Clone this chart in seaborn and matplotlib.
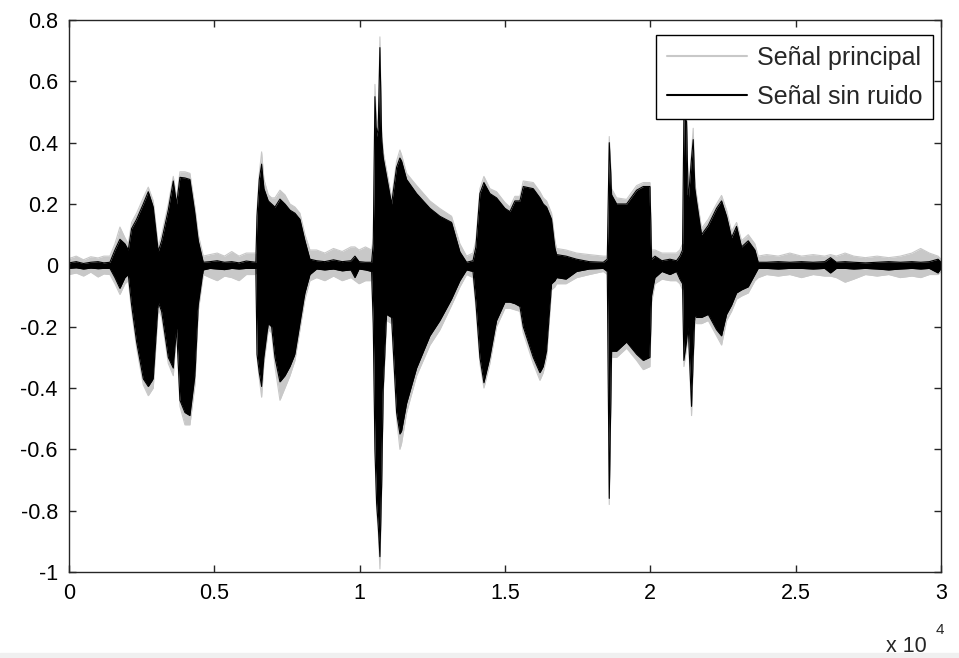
import matplotlib
matplotlib.use("Agg")
import matplotlib.pyplot as plt
from matplotlib.lines import Line2D
import pandas as pd
import seaborn as sns

# Waveform envelopes (sample index -> max / min amplitude) for both signals
sample_pos = [0, 250, 500, 750, 1000, 1200, 1410, 1582, 1754, 1926, 2041, 2156, 2328, 2557,
              2729, 2901, 3073, 3188, 3417, 3589, 3704, 3818, 3990, 4162, 4334, 4449, 4621,
              4850, 5100, 5350, 5600, 5850, 6100, 6430, 6470, 6548, 6628, 6708, 6857, 6972,
              7087, 7259, 7431, 7603, 7775, 7947, 8119, 8291, 8520, 8800, 9100, 9400, 9700,
              9839, 9980, 10200, 10412, 10469, 10527, 10584, 10641, 10698, 10756, 10813,
              10928, 11100, 11272, 11386, 11444, 11616, 11960, 12418, 12762, 13163, 13450,
              13679, 13900, 14000, 14138, 14276, 14482, 14711, 14998, 15170, 15342, 15514,
              15629, 15973, 16203, 16317, 16432, 16604, 16719, 16776, 17100, 17464, 17900,
              18382, 18520, 18588, 18640, 18669, 18841, 19185, 19529, 19758, 19988, 20045,
              20160, 20400, 20676, 20900, 21018, 21110, 21156, 21247, 21305, 21419, 21476,
              21534, 21591, 21763, 21993, 22280, 22452, 22624, 22796, 22968, 23140, 23369,
              23599, 23713, 24000, 24400, 24800, 25200, 25600, 26000, 26200, 26400, 26700,
              27000, 27400, 27800, 28200, 28600, 29000, 29300, 29600, 29900, 30000]

clean_hi = [0.008, 0.012, 0.006, 0.010, 0.012, 0.008, 0.010, 0.050, 0.085, 0.070, 0.050,
            0.120, 0.150, 0.200, 0.240, 0.190, 0.045, 0.080, 0.180, 0.275, 0.200, 0.287,
            0.285, 0.280, 0.170, 0.080, 0.010, 0.012, 0.015, 0.010, 0.012, 0.008, 0.014,
            0.010, 0.160, 0.280, 0.330, 0.250, 0.210, 0.200, 0.190, 0.216, 0.200, 0.180,
            0.170, 0.150, 0.080, 0.020, 0.015, 0.012, 0.018, 0.012, 0.015, 0.030, 0.012,
            0.010, 0.010, 0.070, 0.550, 0.420, 0.450, 0.710, 0.420, 0.350, 0.290, 0.200,
            0.320, 0.350, 0.340, 0.280, 0.234, 0.186, 0.160, 0.140, 0.044, 0.010, 0.015,
            0.060, 0.234, 0.270, 0.234, 0.220, 0.186, 0.175, 0.210, 0.210, 0.257, 0.250,
            0.220, 0.200, 0.190, 0.150, 0.056, 0.035, 0.030, 0.020, 0.012, 0.010, 0.020,
            0.400, 0.300, 0.230, 0.200, 0.200, 0.245, 0.257, 0.257, 0.020, 0.030, 0.015,
            0.020, 0.015, 0.030, 0.050, 0.480, 0.470, 0.210, 0.350, 0.410, 0.250, 0.210,
            0.100, 0.130, 0.186, 0.210, 0.160, 0.090, 0.127, 0.060, 0.080, 0.050, 0.010,
            0.010, 0.012, 0.010, 0.012, 0.010, 0.012, 0.025, 0.010, 0.012, 0.010, 0.008,
            0.010, 0.012, 0.010, 0.012, 0.010, 0.012, 0.020, 0.010]

clean_lo = [-0.010, -0.008, -0.012, -0.009, -0.011, -0.010, -0.010, -0.040, -0.075, -0.040,
            -0.030, -0.130, -0.250, -0.370, -0.395, -0.370, -0.120, -0.150, -0.300, -0.335,
            -0.205, -0.440, -0.480, -0.490, -0.360, -0.130, -0.015, -0.010, -0.012, -0.014,
            -0.010, -0.012, -0.010, -0.010, -0.290, -0.350, -0.395, -0.300, -0.190, -0.200,
            -0.300, -0.380, -0.360, -0.330, -0.290, -0.190, -0.090, -0.030, -0.012, -0.015,
            -0.012, -0.018, -0.015, -0.040, -0.012, -0.015, -0.020, -0.190, -0.600, -0.775,
            -0.850, -0.950, -0.720, -0.400, -0.160, -0.170, -0.480, -0.550, -0.540, -0.450,
            -0.335, -0.230, -0.180, -0.110, -0.050, -0.015, -0.020, -0.120, -0.300, -0.383,
            -0.300, -0.180, -0.120, -0.120, -0.125, -0.134, -0.200, -0.300, -0.350, -0.330,
            -0.280, -0.060, -0.050, -0.040, -0.045, -0.020, -0.012, -0.010, -0.020, -0.760,
            -0.450, -0.280, -0.280, -0.250, -0.290, -0.310, -0.300, -0.100, -0.040, -0.020,
            -0.030, -0.020, -0.045, -0.060, -0.310, -0.250, -0.200, -0.460, -0.300, -0.160,
            -0.170, -0.170, -0.160, -0.210, -0.230, -0.160, -0.130, -0.090, -0.080, -0.070,
            -0.030, -0.010, -0.010, -0.012, -0.010, -0.010, -0.012, -0.010, -0.025, -0.010,
            -0.010, -0.012, -0.010, -0.012, -0.015, -0.012, -0.010, -0.012, -0.010, -0.025,
            -0.010]

noisy_hi = [0.022, 0.030, 0.018, 0.028, 0.024, 0.030, 0.030, 0.070, 0.125, 0.090, 0.070,
            0.140, 0.170, 0.220, 0.255, 0.210, 0.060, 0.100, 0.200, 0.290, 0.220, 0.305,
            0.305, 0.300, 0.190, 0.100, 0.030, 0.035, 0.040, 0.030, 0.045, 0.030, 0.040,
            0.040, 0.180, 0.300, 0.370, 0.280, 0.230, 0.220, 0.220, 0.245, 0.230, 0.200,
            0.190, 0.170, 0.100, 0.050, 0.050, 0.040, 0.055, 0.045, 0.060, 0.060, 0.050,
            0.060, 0.050, 0.090, 0.590, 0.450, 0.480, 0.745, 0.440, 0.370, 0.310, 0.220,
            0.340, 0.376, 0.360, 0.300, 0.260, 0.210, 0.185, 0.160, 0.070, 0.030, 0.040,
            0.080, 0.250, 0.290, 0.250, 0.240, 0.205, 0.190, 0.225, 0.225, 0.275, 0.270,
            0.240, 0.220, 0.210, 0.170, 0.080, 0.055, 0.050, 0.040, 0.035, 0.030, 0.030,
            0.420, 0.320, 0.250, 0.220, 0.215, 0.260, 0.270, 0.270, 0.050, 0.050, 0.040,
            0.040, 0.040, 0.050, 0.070, 0.490, 0.480, 0.230, 0.370, 0.447, 0.270, 0.230,
            0.120, 0.150, 0.200, 0.228, 0.180, 0.110, 0.140, 0.080, 0.100, 0.070, 0.030,
            0.035, 0.030, 0.040, 0.030, 0.035, 0.030, 0.035, 0.030, 0.040, 0.030, 0.025,
            0.030, 0.025, 0.030, 0.040, 0.055, 0.040, 0.030, 0.020]

noisy_lo = [-0.030, -0.025, -0.035, -0.022, -0.038, -0.028, -0.030, -0.060, -0.095, -0.060,
            -0.050, -0.150, -0.270, -0.390, -0.425, -0.400, -0.140, -0.170, -0.320, -0.360,
            -0.220, -0.460, -0.520, -0.520, -0.390, -0.150, -0.030, -0.040, -0.050, -0.035,
            -0.040, -0.050, -0.030, -0.030, -0.300, -0.370, -0.430, -0.320, -0.210, -0.220,
            -0.330, -0.440, -0.400, -0.360, -0.310, -0.210, -0.110, -0.050, -0.040, -0.050,
            -0.035, -0.050, -0.040, -0.050, -0.060, -0.050, -0.050, -0.210, -0.620, -0.800,
            -0.870, -0.990, -0.740, -0.420, -0.180, -0.190, -0.500, -0.600, -0.580, -0.480,
            -0.360, -0.260, -0.210, -0.130, -0.070, -0.030, -0.040, -0.140, -0.320, -0.400,
            -0.320, -0.200, -0.140, -0.140, -0.145, -0.150, -0.220, -0.320, -0.375, -0.350,
            -0.300, -0.080, -0.070, -0.060, -0.060, -0.040, -0.030, -0.020, -0.030, -0.780,
            -0.470, -0.300, -0.300, -0.270, -0.310, -0.340, -0.330, -0.120, -0.060, -0.045,
            -0.050, -0.050, -0.060, -0.080, -0.330, -0.270, -0.220, -0.490, -0.320, -0.180,
            -0.190, -0.190, -0.180, -0.230, -0.260, -0.180, -0.150, -0.110, -0.100, -0.090,
            -0.050, -0.040, -0.030, -0.035, -0.030, -0.040, -0.030, -0.035, -0.035, -0.040,
            -0.055, -0.045, -0.030, -0.035, -0.030, -0.040, -0.035, -0.040, -0.030, -0.030,
            -0.020]

x_ticks = [0, 5000, 10000, 15000, 20000, 25000, 30000]
x_tick_labels = ["0", "0.5", "1", "1.5", "2", "2.5", "3"]
y_ticks = [-1, -0.8, -0.6, -0.4, -0.2, 0, 0.2, 0.4, 0.6, 0.8]
y_tick_labels = ["-1", "-0.8", "-0.6", "-0.4", "-0.2", "0", "0.2", "0.4", "0.6", "0.8"]
series_names = ["Señal principal", "Señal sin ruido"]

NOISY_COLOR = "#c8c8c8"
CLEAN_COLOR = "#000000"
TICK_FS = 15.5

sns.set_style("ticks")
plt.rcParams["font.family"] = ["Liberation Sans", "DejaVu Sans"]

fig = plt.figure(figsize=(9.59, 6.58), dpi=100)
fig.patch.set_facecolor("white")
ax = fig.add_axes([0.0719, 0.1307, 0.9093, 0.8389])

df = pd.DataFrame({"pos": sample_pos, "clean_hi": clean_hi, "clean_lo": clean_lo,
                   "noisy_hi": noisy_hi, "noisy_lo": noisy_lo})

# noisy signal underneath, cleaned signal on top
ax.fill_between(df["pos"], df["noisy_lo"], df["noisy_hi"], color=NOISY_COLOR, lw=0)
for col in ("noisy_hi", "noisy_lo"):
    sns.lineplot(data=df, x="pos", y=col, ax=ax, color=NOISY_COLOR, lw=0.8)
ax.fill_between(df["pos"], df["clean_lo"], df["clean_hi"], color=CLEAN_COLOR, lw=0)
for col in ("clean_hi", "clean_lo"):
    sns.lineplot(data=df, x="pos", y=col, ax=ax, color=CLEAN_COLOR, lw=0.8)

ax.set_xlim(0, 30000)
ax.set_ylim(-1, 0.8)
ax.set_xticks(x_ticks)
ax.set_xticklabels(x_tick_labels)
ax.set_yticks(y_ticks)
ax.set_yticklabels(y_tick_labels)
ax.set_xlabel("")
ax.set_ylabel("")
ax.tick_params(direction="in", length=5, width=1, colors="#262626", labelcolor="black",
               labelsize=TICK_FS, top=True, right=True)
ax.tick_params(axis="x", pad=8)
ax.tick_params(axis="y", pad=8)
for sp in ax.spines.values():
    sp.set_visible(True)
    sp.set_color("#262626")
    sp.set_linewidth(1.0)

# axis multiplier below the right end of the x axis
fig.text(927 / 959, 1 - 652 / 658, "x 10", ha="right", va="baseline", fontsize=TICK_FS)
fig.text(936 / 959, 1 - 634 / 658, "4", ha="left", va="baseline", fontsize=11)

handles = [Line2D([], [], color=NOISY_COLOR, lw=1.5),
           Line2D([], [], color=CLEAN_COLOR, lw=1.5)]
leg = ax.legend(handles, series_names, loc="upper right", bbox_to_anchor=(0.9908, 0.9728),
                borderaxespad=0, fancybox=False, framealpha=1, edgecolor="black",
                fontsize=18, handlelength=3.2, handletextpad=0.4, labelspacing=0.6,
                borderpad=0.42)
leg.get_frame().set_linewidth(1.0)

# light strip along the bottom edge of the figure
fig.patches.append(plt.Rectangle((0, 0), 1, 5 / 658, transform=fig.transFigure,
                                 color="#f0f0f0", zorder=-1))

fig.savefig("out.png", dpi=100)
